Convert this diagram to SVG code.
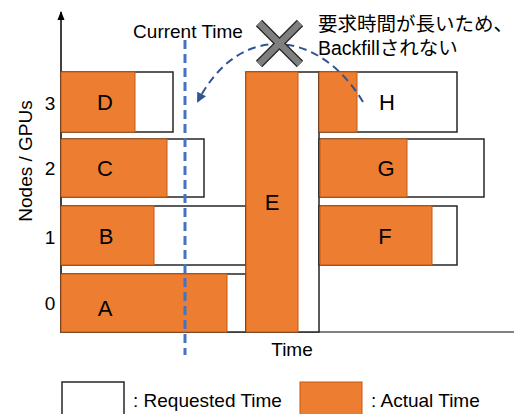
<svg xmlns="http://www.w3.org/2000/svg" width="514" height="414" viewBox="0 0 514 414">
<defs>
<style>
.req{fill:#fff;stroke:#262626;stroke-width:1.5}
.act{fill:#ED7D31;stroke:#C55A11;stroke-width:1}
.t{font-family:"Liberation Sans",Arial,sans-serif;font-size:19px;fill:#000}
.lb{font-family:"Liberation Sans",Arial,sans-serif;font-size:22px;fill:#000;text-anchor:middle}
.jp{font-family:"Liberation Sans","Noto Sans CJK JP",sans-serif;font-size:19.5px;fill:#000}
</style>
<marker id="ah" viewBox="0 0 10 10" refX="8" refY="5" markerWidth="5" markerHeight="5" orient="auto-start-reverse">
<path d="M0,0 L10,5 L0,10 z" fill="#2F5597"/>
</marker>
<marker id="ax" viewBox="0 0 10 10" refX="9" refY="5" markerWidth="6" markerHeight="6" orient="auto">
<path d="M0,1 L10,5 L0,9 z" fill="#000"/>
</marker>
</defs>
<rect width="514" height="414" fill="#fff"/>
<g id="axes">
<line x1="61" y1="333" x2="61" y2="12" stroke="#000" stroke-width="1.5" marker-end="url(#ax)"/>
<line x1="61" y1="332" x2="514" y2="332" stroke="#595959" stroke-width="1.5"/>
<text class="t" transform="translate(32,161) rotate(-90)" text-anchor="middle">Nodes / GPUs</text>
<text class="t" x="50" y="110" text-anchor="middle">3</text>
<text class="t" x="50" y="175" text-anchor="middle">2</text>
<text class="t" x="50" y="244" text-anchor="middle">1</text>
<text class="t" x="50" y="310" text-anchor="middle">0</text>
<text class="t" x="292" y="356" text-anchor="middle" font-size="20.5">Time</text>
</g>
<g id="A"><rect class="req" x="61" y="274" width="185" height="58"/><rect class="act" x="61" y="274" width="166" height="58"/><text class="lb" x="105" y="316">A</text></g>
<g id="B"><rect class="req" x="61" y="206" width="185" height="59"/><rect class="act" x="61" y="206" width="93" height="59"/><text class="lb" x="106" y="244">B</text></g>
<g id="C"><rect class="req" x="61" y="139" width="143" height="58"/><rect class="act" x="61" y="139" width="106" height="58"/><text class="lb" x="105" y="176">C</text></g>
<g id="D"><rect class="req" x="61" y="72" width="112" height="60"/><rect class="act" x="61" y="72" width="74" height="60"/><text class="lb" x="105" y="110">D</text></g>
<g id="E"><rect class="req" x="246" y="72" width="73" height="260"/><rect class="act" x="246" y="72" width="52" height="260"/><text class="lb" x="272" y="210">E</text></g>
<g id="F"><rect class="req" x="319" y="206" width="138" height="59"/><rect class="act" x="320" y="206" width="112" height="59"/><text class="lb" x="385" y="244">F</text></g>
<g id="G"><rect class="req" x="319" y="139" width="165" height="58"/><rect class="act" x="320" y="139" width="87" height="58"/><text class="lb" x="386" y="176">G</text></g>
<g id="H"><rect class="req" x="319" y="72" width="138" height="60"/><rect class="act" x="319" y="72" width="38" height="60"/><text class="lb" x="387" y="110">H</text></g>
<g id="current-time">
<line x1="185" y1="40" x2="185" y2="355" stroke="#4472C4" stroke-width="3" stroke-dasharray="9,5"/>
<text class="t" x="188" y="38" text-anchor="middle" font-size="20.5">Current Time</text>
</g>
<g id="connectors">
<path d="M363,102 C320,30 240,20 198,101" fill="none" stroke="#2F5597" stroke-width="2" stroke-dasharray="8,5" marker-end="url(#ah)"/>
</g>
<g id="cross">
<line x1="259" y1="23" x2="300" y2="64" stroke="#262626" stroke-width="9"/>
<line x1="300" y1="23" x2="259" y2="64" stroke="#262626" stroke-width="9"/>
<line x1="259" y1="23" x2="300" y2="64" stroke="#7F7F7F" stroke-width="6.5"/>
<line x1="300" y1="23" x2="259" y2="64" stroke="#7F7F7F" stroke-width="6.5"/>
</g>
<g id="note">
<text class="jp" x="318" y="31">要求時間が長いため、</text>
<text class="jp" x="318" y="55">Backfillされない</text>
</g>
<g id="legend">
<rect class="req" x="62" y="382" width="62" height="40"/>
<text class="t" x="133" y="407" font-size="22">: Requested Time</text>
<rect class="act" x="300" y="382" width="62" height="40"/>
<text class="t" x="371" y="407" font-size="22">: Actual Time</text>
</g>
</svg>
